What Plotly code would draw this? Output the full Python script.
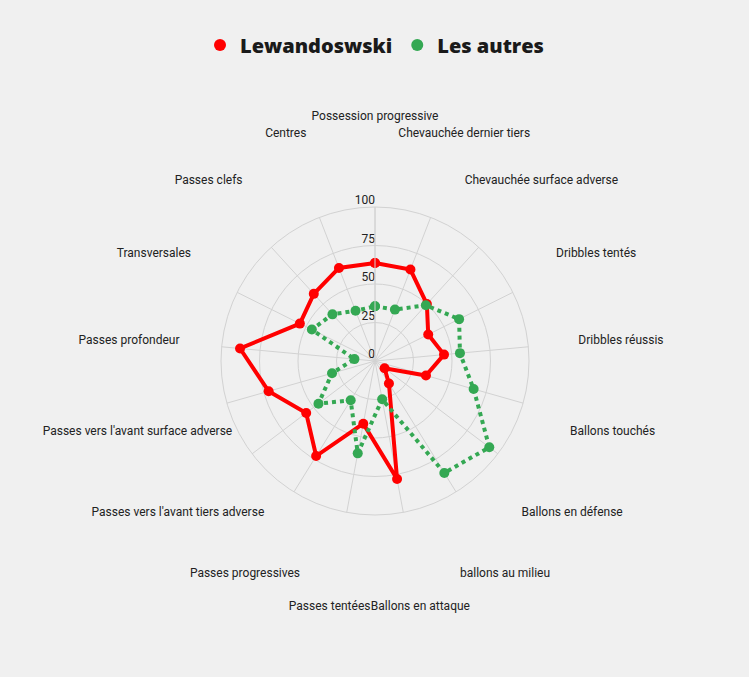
import plotly.graph_objects as go

categories = ["Possession progressive", "Chevauchée dernier tiers", "Chevauchée surface adverse",
              "Dribbles tentés", "Dribbles réussis", "Ballons touchés", "Ballons en défense",
              "ballons au milieu", "Ballons en attaque", "Passes tentées", "Passes progressives",
              "Passes vers l'avant tiers adverse", "Passes vers l'avant surface adverse",
              "Passes profondeur", "Transversales", "Passes clefs", "Centres"]
lewandowski = [63.6, 63.7, 50, 38.6, 45, 34.4, 7.8, 17.2, 78, 41.4, 72.6, 56, 71.8, 88, 54.5, 59, 64.8]
autres = [35.5, 35.8, 49, 61, 55.4, 66.6, 93, 85.5, 25.3, 61, 30, 46, 29, 13.4, 45.8, 41, 35]
radial_ticks = [0, 25, 50, 75, 100]
label_r = [100] * len(categories)

RED = "#ff0000"
GREEN = "#34a853"

fig = go.Figure()
fig.add_trace(go.Scatterpolar(
    r=lewandowski + [lewandowski[0]], theta=categories + [categories[0]],
    mode="lines+markers", name="Lewandoswski", showlegend=False,
    line=dict(color=RED, width=4), marker=dict(color=RED, size=10),
))
fig.add_trace(go.Scatterpolar(
    r=autres + [autres[0]], theta=categories + [categories[0]],
    mode="lines+markers", name="Les autres", showlegend=False,
    line=dict(color=GREEN, width=4, dash="dot"), marker=dict(color=GREEN, size=10),
))
# radial tick labels (above-left of each tick)
fig.add_trace(go.Scatterpolar(
    r=radial_ticks, theta=[categories[0]] * len(radial_ticks), mode="text",
    text=[str(v) for v in radial_ticks], textposition="top left", showlegend=False,
    cliponaxis=False, textfont=dict(family="Roboto", size=12, color="#222222"), hoverinfo="skip",
))
# legend entries (markers only)
fig.add_trace(go.Scatterpolar(r=[None], theta=[categories[0]], mode="markers", name="Lewandoswski",
                              marker=dict(color=RED, size=12)))
fig.add_trace(go.Scatterpolar(r=[None], theta=[categories[0]], mode="markers", name="Les autres",
                              marker=dict(color=GREEN, size=12)))
# category labels on an outer, invisible polar subplot
fig.add_trace(go.Scatterpolar(
    r=label_r, theta=categories, mode="text", text=categories, subplot="polar2",
    textposition="middle center", showlegend=False, cliponaxis=False,
    textfont=dict(family="Roboto", size=12, color="#222222"), hoverinfo="skip",
))

cx, cy_b, R, RL = 375, 316, 154, 247
cy_l = cy_b - 3
fig.update_layout(
    width=749, height=677,
    paper_bgcolor="#f0f0f0", plot_bgcolor="#f0f0f0",
    margin=dict(l=0, r=0, t=0, b=0),
    font=dict(family="Roboto", size=12, color="#222222"),
    showlegend=True,
    legend=dict(orientation="h", x=0.5, xanchor="center", y=1 - 45 / 677, yanchor="middle",
                font=dict(family="Open Sans", size=20, weight=800, color="#1a1a1a"),
                bgcolor="rgba(0,0,0,0)", itemsizing="constant", itemwidth=30),
    polar=dict(
        domain=dict(x=[(cx - R) / 749, (cx + R) / 749], y=[(cy_b - R) / 677, (cy_b + R) / 677]),
        bgcolor="#f0f0f0",
        angularaxis=dict(rotation=90, direction="clockwise", showticklabels=False, ticks="",
                         gridcolor="#d2d2d2", linecolor="#d2d2d2", showline=True),
        radialaxis=dict(range=[0, 100], tickvals=radial_ticks, angle=90, showticklabels=False,
                        gridcolor="#d2d2d2", linecolor="#d2d2d2", showline=True, ticks=""),
    ),
    polar2=dict(
        domain=dict(x=[(cx - RL) / 749, (cx + RL) / 749], y=[(cy_l - RL) / 677, (cy_l + RL) / 677]),
        bgcolor="rgba(0,0,0,0)",
        angularaxis=dict(rotation=90, direction="clockwise", visible=False, showgrid=False,
                         showline=False, showticklabels=False, ticks=""),
        radialaxis=dict(range=[0, 100], visible=False, showgrid=False, showline=False,
                        showticklabels=False, ticks=""),
    ),
)
fig.write_html("out.html", config={"displayModeBar": False},
               post_script="document.body.style.margin='0';document.body.style.background='#f0f0f0';")
